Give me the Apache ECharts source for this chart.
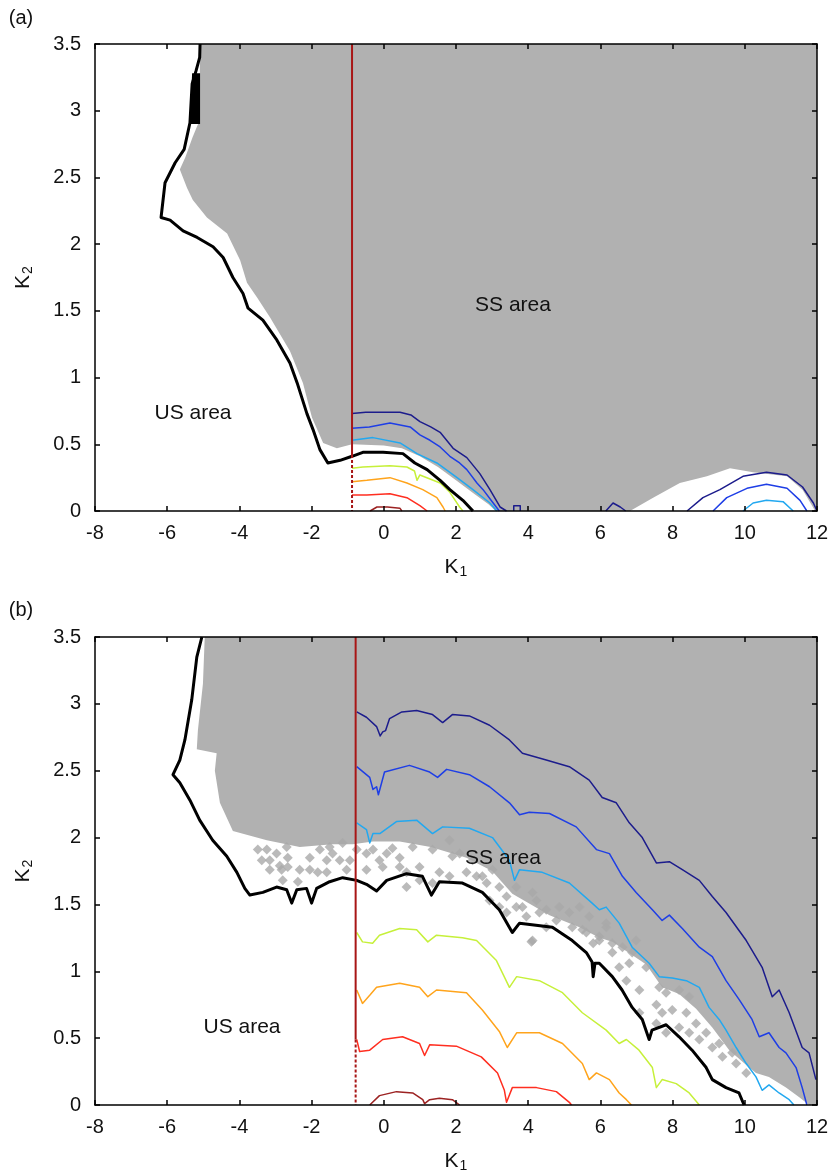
<!DOCTYPE html>
<html>
<head>
<meta charset="utf-8">
<title>Stability regions in the K1-K2 plane</title>
<script src="https://cdn.jsdelivr.net/npm/echarts@6/dist/echarts.min.js"></script>
<style>
  html, body { margin: 0; padding: 0; background: #ffffff; }
  #chart { width: 833px; height: 1174px; }
</style>
</head>
<body>
<div id="chart"></div>
<script>
// ---------- axis ticks ----------
const xTicks = [-8, -6, -4, -2, 0, 2, 4, 6, 8, 10, 12];
const yTicks = [0, 0.5, 1, 1.5, 2, 2.5, 3, 3.5];

// ---------- panel (a) ----------
const grayAreaA = [[-5.09,3.5],[-5.1,2.93],[-5.3,2.8],[-5.5,2.65],[-5.65,2.56],[-5.45,2.42],[-5.29,2.33],[-4.9,2.2],[-4.34,2.08],[-3.98,1.88],[-3.79,1.71],[-3.51,1.6],[-3.15,1.45],[-2.6,1.2],[-2.24,0.96],[-1.99,0.7],[-1.68,0.51],[-1.3,0.47],[-0.88,0.5],[0,0.49],[0.5,0.47],[1.0,0.41],[1.5,0.33],[2.0,0.23],[2.5,0.13],[2.9,0.05],[3.1,0],[6.82,0],[7.46,0.1],[8.2,0.21],[8.95,0.26],[9.59,0.32],[10.23,0.29],[11.17,0.26],[11.6,0.16],[11.95,0],[12,0],[12,3.5]];
const blackBlobA = [[-5.31,3.28],[-5.09,3.28],[-5.09,2.9],[-5.37,2.9]];
const boundaryA = [[-5.09,3.5],[-5.1,3.4],[-5.2,3.3],[-5.31,3.2],[-5.37,2.91],[-5.53,2.71],[-5.78,2.61],[-6.06,2.46],[-6.17,2.2],[-5.92,2.18],[-5.56,2.1],[-5.17,2.05],[-4.73,1.98],[-4.45,1.9],[-4.18,1.75],[-3.9,1.63],[-3.76,1.52],[-3.35,1.43],[-2.96,1.28],[-2.6,1.11],[-2.4,0.96],[-2.13,0.73],[-1.96,0.61],[-1.77,0.46],[-1.55,0.36],[-1.21,0.38],[-0.88,0.41],[-0.58,0.44],[-0.02,0.44],[0.53,0.43],[0.86,0.36],[1.2,0.31],[1.56,0.23],[1.83,0.16],[2.19,0.08],[2.47,0.0]];
const navyA = [[-0.88,0.73],[-0.5,0.74],[0,0.74],[0.45,0.74],[0.75,0.72],[1.0,0.67],[1.3,0.63],[1.56,0.59],[1.92,0.47],[2.3,0.4],[2.66,0.28],[2.94,0.16],[3.22,0.03],[3.4,0]];
const navyA2 = [[3.6,0],[3.6,0.04],[3.78,0.04],[3.78,0]];
const navyA3 = [[6.15,0],[6.35,0.06],[6.55,0.03],[6.7,0]];
const navyA4 = [[8.4,0],[8.84,0.1],[9.31,0.16],[9.95,0.26],[10.6,0.29],[11.17,0.27],[11.6,0.18],[11.9,0.06],[12,0]];
const blueA = [[-0.88,0.62],[-0.4,0.63],[0.17,0.66],[0.73,0.63],[1.0,0.57],[1.28,0.53],[1.56,0.48],[1.83,0.41],[2.1,0.36],[2.3,0.31],[2.58,0.21],[2.75,0.16],[3.03,0.06],[3.2,0]];
const blueA2 = [[9.12,0],[9.5,0.1],[10.06,0.17],[10.6,0.2],[11.17,0.17],[11.53,0.08],[11.72,0]];
const cyanA = [[-0.88,0.53],[-0.3,0.55],[0.45,0.51],[0.92,0.43],[1.47,0.36],[2.03,0.25],[2.47,0.16],[2.94,0.06],[3.13,0]];
const cyanA2 = [[9.95,0],[10.23,0.06],[10.6,0.08],[11.06,0.07],[11.34,0]];
const limeA = [[-0.88,0.32],[-0.58,0.33],[0.17,0.34],[0.64,0.33],[0.85,0.3],[0.92,0.23],[1.0,0.27],[1.56,0.21],[1.83,0.14],[2.1,0.03],[2.19,0]];
const orangeA = [[-0.88,0.22],[-0.47,0.23],[0.17,0.25],[0.64,0.21],[1.08,0.16],[1.47,0.1],[1.64,0.03],[1.7,0]];
const redA = [[-0.88,0.12],[-0.47,0.12],[0.17,0.13],[0.64,0.1],[1.0,0.04],[1.2,0]];
const maroonA = [[-0.38,0],[-0.19,0.03],[0.1,0.03],[0.45,0.02],[0.5,0]];
const verticalA = { x: -0.88, solidTo: 0.42 };

// ---------- panel (b) ----------
const grayAreaB = [[-4.96,3.5],[-5.01,3.15],[-5.15,2.8],[-5.18,2.66],[-4.63,2.63],[-4.68,2.5],[-4.54,2.26],[-4.18,2.05],[-3.24,1.98],[-2.33,1.93],[-1.42,1.95],[-0.86,1.95],[-0.3,1.97],[0.44,1.97],[1.3,1.93],[2.29,1.85],[3.0,1.75],[3.56,1.58],[4.59,1.42],[5.42,1.33],[5.97,1.25],[6.33,1.22],[7.27,1.05],[7.71,0.88],[8.18,0.83],[8.65,0.72],[9.1,0.58],[9.57,0.41],[10.04,0.3],[10.31,0.24],[10.67,0.21],[11.14,0.13],[11.5,0.06],[11.78,0],[12,0],[12,3.5]];
// gray flecks scattered across the transition band below the solid area
const speckB = [[-3.49,1.91],[-3.16,1.83],[-2.88,1.79],[-2.66,1.78],[-2.33,1.76],[-2.05,1.76],[-1.83,1.74],[-2.38,1.67],[-1.58,1.83],[-1.42,1.88],[-1.22,1.83],[-1.03,1.76],[-2.97,1.88],[-3.38,1.83],[-0.48,1.88],[-0.12,1.83],[0.08,1.88],[0.44,1.85],[0.63,1.74],[-0.3,1.91],[-2.69,1.93],[-2.05,1.85],[-0.94,1.83],[0.63,1.63],[0.99,1.78],[1.54,1.74],[1.82,1.71],[2.29,1.74],[2.57,1.71],[2.85,1.66],[3.2,1.63],[3.4,1.56],[3.67,1.48],[3.84,1.48],[4.23,1.53],[4.5,1.46],[4.31,1.44],[4.86,1.48],[5.14,1.44],[5.42,1.48],[5.69,1.41],[6.16,1.33],[4.12,1.23],[6.33,1.21],[1.35,1.91],[0.8,1.93],[2.1,1.88],[3.01,1.76],[5.5,1.31],[5.97,1.26],[6.61,1.18],[6.33,1.14],[6.88,1.14],[6.52,1.03],[6.8,1.06],[6.72,0.93],[7.63,0.88],[7.55,0.75],[7.82,0.84],[7.08,0.69],[7.71,0.69],[8.18,0.58],[8.65,0.61],[8.46,0.54],[8.93,0.54],[8.18,0.86],[8.46,0.81],[9.1,0.43],[9.38,0.36],[9.65,0.39],[4.09,1.22],
  [-3.16,1.76],[-2.83,1.76],[-2.66,1.85],[-3.24,1.91],[-1.77,1.91],[-1.5,1.93],[-1.14,1.96],[-0.75,1.91],[0.24,1.92],[-0.03,1.78],[0.44,1.78],[-0.48,1.76],[-2.8,1.68],[-1.58,1.74],
  [0.99,1.68],[1.35,1.66],[1.9,1.86],[2.46,1.83],[1.82,1.98],[2.73,1.71],[2.93,1.53],[3.2,1.48],[3.95,1.41],[4.5,1.33],[4.78,1.38],[5.22,1.33],[5.61,1.29],[5.97,1.23],[3.4,1.44],[3.67,1.63],[4.12,1.59],
  [5.8,1.21],[6.16,1.36],[6.99,1.23],[7.27,1.03],[7.08,0.86],[7.99,0.71],[8.38,0.69],[8.74,0.49],[9.29,0.46],[9.76,0.31],[10.04,0.24],[7.55,0.61],[7.82,0.54]];
const boundaryB = [[-5.04,3.5],[-5.18,3.35],[-5.32,3.03],[-5.51,2.73],[-5.65,2.58],[-5.84,2.47],[-5.65,2.41],[-5.37,2.28],[-5.1,2.13],[-4.74,1.98],[-4.35,1.86],[-4.07,1.74],[-3.85,1.62],[-3.71,1.57],[-3.35,1.59],[-2.97,1.63],[-2.69,1.61],[-2.55,1.51],[-2.41,1.61],[-2.14,1.62],[-2.0,1.51],[-1.86,1.62],[-1.5,1.67],[-1.14,1.7],[-0.75,1.68],[-0.48,1.65],[-0.2,1.6],[0.08,1.68],[0.63,1.73],[1.07,1.71],[1.32,1.57],[1.54,1.67],[2.18,1.66],[2.73,1.59],[3.2,1.46],[3.56,1.29],[3.76,1.36],[4.67,1.33],[5.22,1.23],[5.61,1.14],[5.77,1.07],[5.8,0.96],[5.85,1.06],[5.97,1.06],[6.33,0.96],[6.6,0.86],[6.88,0.73],[7.16,0.64],[7.35,0.49],[7.43,0.56],[7.82,0.6],[8.18,0.51],[8.54,0.41],[8.93,0.28],[9.1,0.19],[9.48,0.13],[9.84,0.09],[9.98,0]];
const navyB = [[-0.75,2.94],[-0.48,2.9],[-0.2,2.83],[-0.1,2.76],[-0.03,2.79],[0.05,2.8],[0.16,2.89],[0.5,2.94],[0.91,2.95],[1.35,2.92],[1.63,2.86],[1.9,2.92],[2.37,2.91],[2.93,2.84],[3.48,2.73],[3.84,2.63],[4.5,2.58],[5.14,2.53],[5.69,2.43],[6.05,2.3],[6.44,2.26],[6.8,2.11],[7.16,2.0],[7.55,1.81],[7.91,1.82],[8.27,1.76],[8.74,1.68],[9.1,1.56],[9.48,1.44],[10.04,1.23],[10.48,1.03],[10.76,0.81],[10.95,0.86],[11.23,0.69],[11.59,0.43],[11.78,0.39],[11.97,0.19]];
const blueB = [[-0.75,2.53],[-0.39,2.45],[-0.3,2.36],[-0.2,2.38],[-0.15,2.32],[0.02,2.49],[0.71,2.54],[1.27,2.49],[1.49,2.45],[1.74,2.51],[2.37,2.47],[2.93,2.38],[3.48,2.26],[3.76,2.17],[4.03,2.19],[4.59,2.18],[5.33,2.08],[5.89,1.91],[6.25,1.88],[6.61,1.71],[6.99,1.59],[7.44,1.46],[7.71,1.38],[7.91,1.42],[8.27,1.32],[8.74,1.18],[9.1,1.11],[9.48,0.93],[9.84,0.79],[10.2,0.64],[10.4,0.51],[10.67,0.54],[10.95,0.43],[11.14,0.39],[11.42,0.28],[11.59,0.13],[11.72,0]];
const cyanB = [[-0.75,2.11],[-0.48,2.06],[-0.39,1.96],[-0.3,2.03],[-0.11,2.03],[0.35,2.12],[0.91,2.13],[1.35,2.03],[1.63,2.08],[2.37,2.07],[3.01,2.0],[3.48,1.83],[3.62,1.68],[3.76,1.76],[4.39,1.74],[5.14,1.66],[5.77,1.51],[5.97,1.46],[6.16,1.48],[6.52,1.36],[6.88,1.18],[7.35,1.06],[7.63,0.96],[7.99,0.95],[8.38,0.93],[8.74,0.88],[9.01,0.73],[9.29,0.64],[9.48,0.56],[9.76,0.43],[10.04,0.31],[10.31,0.21],[10.48,0.11],[10.67,0.15],[10.95,0.09],[11.23,0.04],[11.36,0]];
const limeB = [[-0.75,1.29],[-0.59,1.22],[-0.31,1.21],[-0.12,1.27],[0.44,1.32],[0.91,1.31],[1.22,1.22],[1.46,1.27],[2.18,1.25],[2.57,1.23],[3.12,1.08],[3.48,0.88],[3.68,0.96],[4.31,0.93],[4.95,0.84],[5.5,0.69],[6.16,0.56],[6.52,0.46],[6.72,0.49],[7.07,0.41],[7.44,0.28],[7.55,0.13],[7.71,0.19],[8.1,0.16],[8.46,0.09],[8.74,0]];
const orangeB = [[-0.75,0.86],[-0.59,0.76],[-0.39,0.82],[-0.2,0.88],[0.44,0.91],[0.99,0.88],[1.22,0.81],[1.46,0.86],[2.29,0.84],[2.73,0.71],[3.2,0.55],[3.42,0.43],[3.68,0.54],[4.31,0.54],[4.95,0.46],[5.5,0.31],[5.69,0.19],[5.89,0.24],[6.25,0.19],[6.52,0.09],[6.72,0.04],[6.86,0]];
const redB = [[-0.75,0.49],[-0.67,0.4],[-0.39,0.41],[-0.03,0.49],[0.52,0.51],[0.99,0.46],[1.13,0.37],[1.27,0.45],[2.01,0.44],[2.7,0.36],[3.15,0.24],[3.34,0.11],[3.4,0.02],[3.56,0.13],[4.23,0.13],[4.78,0.1],[5.14,0.02],[5.2,0]];
const maroonB = [[-0.39,0],[-0.12,0.07],[0.35,0.1],[0.8,0.09],[1.08,0.04],[1.13,0.01],[1.27,0.04],[1.54,0.05],[1.9,0.04],[2.1,0]];
const verticalB = { x: -0.78, solidTo: 0.49 };

// ---------- styling ----------
const FONT = 'Liberation Sans, Arial, sans-serif';
const COLORS = {
  gray: '#b1b1b1', speck: '#a9a9a9', black: '#000000',
  navy: '#1c1c8c', blue: '#1e3ee6', cyan: '#22a8f0',
  lime: '#c6f03a', orange: '#ffa41c', red: '#ff2e20', maroon: '#9c2222', vline: '#a81616'
};

const chart = echarts.init(document.getElementById('chart'), null, { renderer: 'canvas' });

function xAxes(gridIndex) {
  const base = {
    gridIndex, type: 'value', min: -8, max: 12, interval: 2, z: 10,
    axisLine: { show: true, onZero: false, lineStyle: { color: '#000', width: 1.5 } },
    axisTick: { show: true, inside: true, length: 5, lineStyle: { color: '#000', width: 1.5 } },
    splitLine: { show: false }
  };
  return [
    Object.assign({}, base, {
      position: 'bottom',
      axisLabel: { show: true, margin: 12, fontSize: 20, fontFamily: FONT, color: '#111' },
      name: '{k|K}{s|1}', nameLocation: 'middle', nameGap: 44,
      nameTextStyle: { rich: {
        k: { fontSize: 21, fontFamily: FONT, color: '#111' },
        s: { fontSize: 14, fontFamily: FONT, color: '#111', verticalAlign: 'bottom', padding: [10, 0, 0, 1] }
      } }
    }),
    Object.assign({}, base, { position: 'top', axisLabel: { show: false } })
  ];
}

function yAxes(gridIndex) {
  const base = {
    gridIndex, type: 'value', min: 0, max: 3.5, interval: 0.5, z: 10,
    axisLine: { show: true, onZero: false, lineStyle: { color: '#000', width: 1.5 } },
    axisTick: { show: true, inside: true, length: 5, lineStyle: { color: '#000', width: 1.5 } },
    splitLine: { show: false }
  };
  return [
    Object.assign({}, base, {
      position: 'left',
      axisLabel: { show: true, margin: 14, fontSize: 20, fontFamily: FONT, color: '#111',
                   formatter: v => String(v) },
      name: '{k|K}{s|2}', nameLocation: 'middle', nameGap: 60, nameRotate: 90,
      nameTextStyle: { rich: {
        k: { fontSize: 21, fontFamily: FONT, color: '#111' },
        s: { fontSize: 14, fontFamily: FONT, color: '#111', verticalAlign: 'bottom', padding: [10, 0, 0, 1] }
      } }
    }),
    Object.assign({}, base, { position: 'right', axisLabel: { show: false } })
  ];
}

function polygon(axisIdx, pts, color, z) {
  return {
    type: 'custom', xAxisIndex: axisIdx, yAxisIndex: axisIdx, silent: true, clip: true, z: z,
    data: [0],
    renderItem: (params, api) => ({
      type: 'polygon',
      shape: { points: pts.map(p => api.coord(p)) },
      style: { fill: color, stroke: null }
    })
  };
}

function line(axisIdx, pts, color, width, z, dash) {
  return {
    type: 'line', xAxisIndex: axisIdx, yAxisIndex: axisIdx, data: pts,
    showSymbol: false, symbol: 'none', silent: true, clip: true, z: z,
    lineStyle: { color: color, width: width, type: dash || 'solid', join: 'round' }
  };
}

function speckles(axisIdx, pts) {
  return {
    type: 'scatter', xAxisIndex: axisIdx, yAxisIndex: axisIdx, data: pts, silent: true,
    symbol: 'diamond', symbolSize: 10, itemStyle: { color: COLORS.speck }, z: 3
  };
}

function verticalLine(axisIdx, v) {
  return [
    line(axisIdx, [[v.x, 3.5], [v.x, v.solidTo]], COLORS.vline, 2, 6),
    line(axisIdx, [[v.x, v.solidTo], [v.x, 0]], COLORS.vline, 2, 6, [3, 2])
  ];
}

const series = [
  // panel (a)
  polygon(0, grayAreaA, COLORS.gray, 1),
  polygon(0, blackBlobA, COLORS.black, 5),
  line(0, navyA, COLORS.navy, 1.5, 4),
  line(0, navyA2, COLORS.navy, 1.5, 4),
  line(0, navyA3, COLORS.navy, 1.5, 4),
  line(0, navyA4, COLORS.navy, 1.5, 4),
  line(0, blueA, COLORS.blue, 1.5, 4),
  line(0, blueA2, COLORS.blue, 1.5, 4),
  line(0, cyanA, COLORS.cyan, 1.5, 4),
  line(0, cyanA2, COLORS.cyan, 1.5, 4),
  line(0, limeA, COLORS.lime, 1.5, 4),
  line(0, orangeA, COLORS.orange, 1.5, 4),
  line(0, redA, COLORS.red, 1.5, 4),
  line(0, maroonA, COLORS.maroon, 1.5, 4),
  line(0, boundaryA, COLORS.black, 3, 5),
  ...verticalLine(0, verticalA),
  // panel (b)
  polygon(2, grayAreaB, COLORS.gray, 1),
  speckles(2, speckB),
  line(2, navyB, COLORS.navy, 1.5, 4),
  line(2, blueB, COLORS.blue, 1.5, 4),
  line(2, cyanB, COLORS.cyan, 1.5, 4),
  line(2, limeB, COLORS.lime, 1.5, 4),
  line(2, orangeB, COLORS.orange, 1.5, 4),
  line(2, redB, COLORS.red, 1.5, 4),
  line(2, maroonB, COLORS.maroon, 1.5, 4),
  line(2, boundaryB, COLORS.black, 3, 5),
  ...verticalLine(2, verticalB)
];

const txt = (x, y, text, size) => ({
  type: 'text', x, y, z: 20,
  style: { text, fontSize: size, fontFamily: FONT, fill: '#111', align: 'center', verticalAlign: 'middle' }
});

chart.setOption({
  animation: false,
  backgroundColor: '#ffffff',
  grid: [
    { left: 95, top: 44, width: 722, height: 467, containLabel: false },
    { left: 95, top: 637, width: 722, height: 468, containLabel: false }
  ],
  xAxis: [...xAxes(0), ...xAxes(1)],
  yAxis: [...yAxes(0), ...yAxes(1)],
  series: series,
  graphic: [
    txt(21, 18, '(a)', 20),
    txt(21, 610, '(b)', 20),
    txt(513, 305, 'SS area', 21),
    txt(193, 413, 'US area', 21),
    txt(503, 858, 'SS area', 21),
    txt(242, 1027, 'US area', 21)
  ]
});
</script>
</body>
</html>
